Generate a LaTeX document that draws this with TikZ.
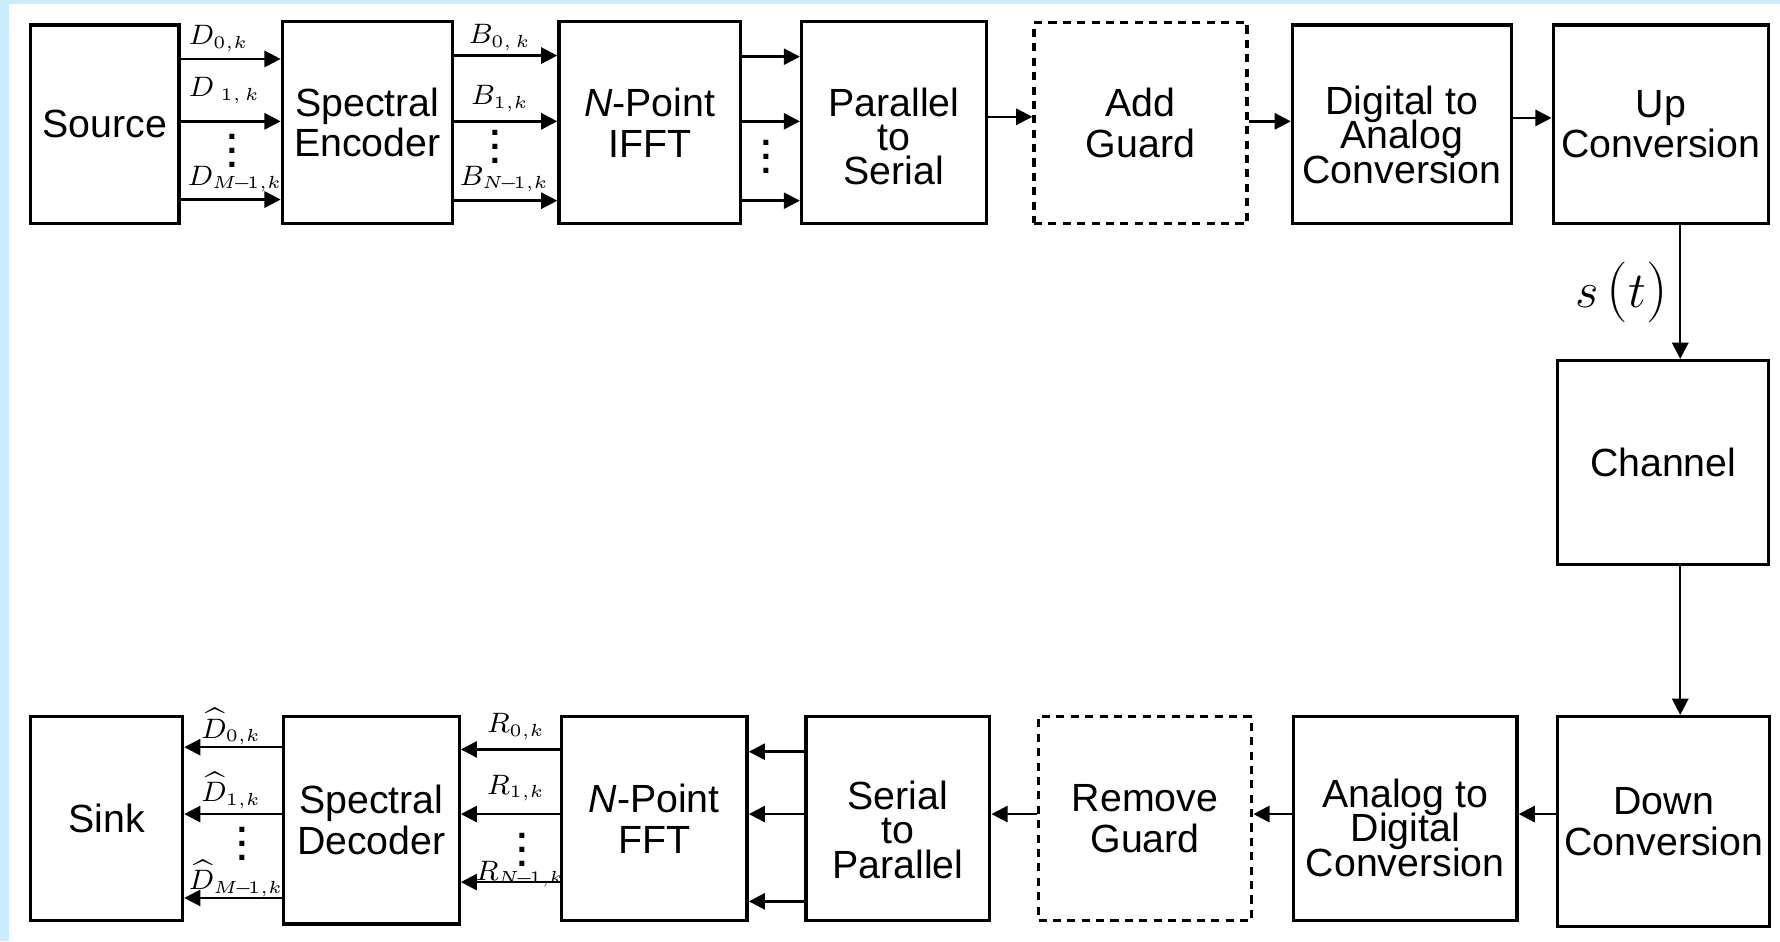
\documentclass[tikz,border=0pt]{standalone}
\usepackage{fontspec}
\setmainfont{Liberation Sans}
\usetikzlibrary{arrows.meta}
\definecolor{bgblue}{RGB}{204,235,255}
\newcommand{\tightfont}{\fontsize{11.2}{9.8}\selectfont\lineskiplimit=-20pt\relax}
\newcommand{\bigparen}[1]{\mbox{\fontsize{17.5}{18}\selectfont$#1$}}
\newcommand{\coldots}{\raisebox{0pt}[9pt][0pt]{\vdots}}

\begin{document}
\begin{tikzpicture}[
    x=0.011352cm, y=-0.011352cm,
    font=\fontsize{11.2}{11.6}\selectfont,
    % Block styles
    block/.style={draw, line width=0.95pt, align=center, inner sep=0pt},
    guard/.style={block, dash pattern=on 2.3pt off 1.8pt},
    size/.style 2 args={minimum width=#1*0.011352cm, minimum height=#2*0.011352cm},
    tight/.style={font=\tightfont, align=center},
    arrow/.style={-{Triangle[length=4.6pt,width=4.6pt]}, line width=0.7pt},
    sym/.style={font=\footnotesize, inner sep=0pt, anchor=west},
    dots/.style={inner sep=0pt, anchor=base, font=\bfseries},
]

    % Background
    \fill[bgblue] (0,0) rectangle (1570,830);
    \fill[white] (8,3.5) rectangle (1570,830);
    \useasboundingbox (0,0) rectangle (1568,829);

    % Transmitter
    \node[block, size={131}{175}] (src)  at (92.5,109.5) {Source};
    \node[block, size={150}{178}] (enc)  at (324,108)    {Spectral\\Encoder};
    \node[block, size={160}{178}] (ifft) at (573,108)    {\textit{N}-Point\\IFFT};
    \node[block, size={163}{178},
          label={[tight, yshift=-4pt]center:Parallel\\to\\Serial}] (ps) at (788.5,108) {};
    \node[guard, size={188}{177}] (addg) at (1006,108.5) {Add\\Guard};
    \node[block, size={193}{175},
          label={[tight, yshift=-3pt]center:Digital to\\Analog\\Conversion}] (dac) at (1236.5,109.5) {};
    \node[block, size={190}{175}] (up)   at (1465,109.5)  {Up\\Conversion};

    % Channel
    \node[block, size={186}{180}] (chan) at (1467,408) {Channel};

    % Receiver
    \node[block, size={187}{185}] (down) at (1467.5,724.5) {Down\\Conversion};
    \node[block, size={197}{180},
          label={[tight, yshift=-2.6pt]center:Analog to\\Digital\\Conversion}] (adc) at (1239.5,722) {};
    \node[guard, size={188}{180}] (rmg)  at (1010,722)   {Remove\\Guard};
    \node[block, size={162}{180},
          label={[tight, yshift=-3.2pt]center:Serial\\to\\Parallel}] (sp) at (792,722) {};
    \node[block, size={164}{180}] (fft)  at (577,722)    {\textit{N}-Point\\FFT};
    \node[block, size={155}{183}] (dec)  at (327.5,723.5) {Spectral\\Decoder};
    \node[block, size={134}{180}] (sink) at (94,722)     {Sink};

    % Parallel connections, top row
    \foreach \y in {52,107,176}
        \draw[arrow] (src.east |- 0,\y) -- (enc.west |- 0,\y);
    \foreach \y in {49,107,177}
        \draw[arrow] (enc.east |- 0,\y) -- (ifft.west |- 0,\y);
    \foreach \y in {50,107,177}
        \draw[arrow] (ifft.east |- 0,\y) -- (ps.west |- 0,\y);

    % Serial connections
    \draw[arrow] (ps.east |- 0,103) -- (addg.west |- 0,103);
    \draw[arrow] (addg.east |- 0,107) -- (dac.west |- 0,107);
    \draw[arrow] (dac.east |- 0,104) -- (up.west |- 0,104);
    \draw[arrow] (up.south -| 1482,0) -- (chan.north -| 1482,0);
    \draw[arrow] (chan.south -| 1482,0) -- (down.north -| 1482,0);
    \draw[arrow] (down.west |- 0,718) -- (adc.east |- 0,718);
    \draw[arrow] (adc.west |- 0,718) -- (rmg.east |- 0,718);
    \draw[arrow] (rmg.west |- 0,718) -- (sp.east |- 0,718);

    % Parallel connections, bottom row
    \foreach \y in {663,718,795}
        \draw[arrow] (sp.west |- 0,\y) -- (fft.east |- 0,\y);
    \foreach \y in {661,718,778}
        \draw[arrow] (fft.west |- 0,\y) -- (dec.east |- 0,\y);
    \foreach \y in {659,718,792}
        \draw[arrow] (dec.west |- 0,\y) -- (sink.east |- 0,\y);

    % Symbol labels
    \node[sym] (d0) at (166,34)  {$D_{\scriptscriptstyle 0,k}$};
    \node[sym] (d1) at (166,80)  {$D_{\scriptscriptstyle \;1,\,k}$};
    \node[sym] (dm) at (165,158) {$D_{\scriptscriptstyle M\!-\!1,k}$};
    \node[dots] (ddots) at (205,148) {\coldots};

    \node[sym] (b0) at (413,33)  {$B_{\scriptscriptstyle 0,\,k}$};
    \node[sym] (b1) at (415,87)  {$B_{\scriptscriptstyle 1,k}$};
    \node[sym] (bn) at (405,158) {$B_{\scriptscriptstyle N\!-\!1,k}$};
    \node[dots] (bdots) at (437,144) {\coldots};

    \node[dots] (pdots) at (676,153) {\coldots};

    \node[sym] (r0) at (429,641) {$R_{\scriptscriptstyle 0,k}$};
    \node[sym] (r1) at (429,695) {$R_{\scriptscriptstyle 1,k}$};
    \node[sym] (rn) at (419,771) {$R_{\scriptscriptstyle N\!-\!1,k}$};
    \node[dots] (rdots) at (461,764) {\coldots};

    \node[sym] (h0) at (177,641) {$\widehat{D}_{\scriptscriptstyle 0,k}$};
    \node[sym] (h1) at (177,697) {$\widehat{D}_{\scriptscriptstyle 1,k}$};
    \node[sym] (hm) at (166,775) {$\widehat{D}_{\scriptscriptstyle M\!-\!1,k}$};
    \node[dots] (hdots) at (214,759) {\coldots};

    \node[font=\Large, inner sep=0pt] (st) at (1430,258) {$s\,\bigparen{(}t\bigparen{)}$};

\end{tikzpicture}
\end{document}
